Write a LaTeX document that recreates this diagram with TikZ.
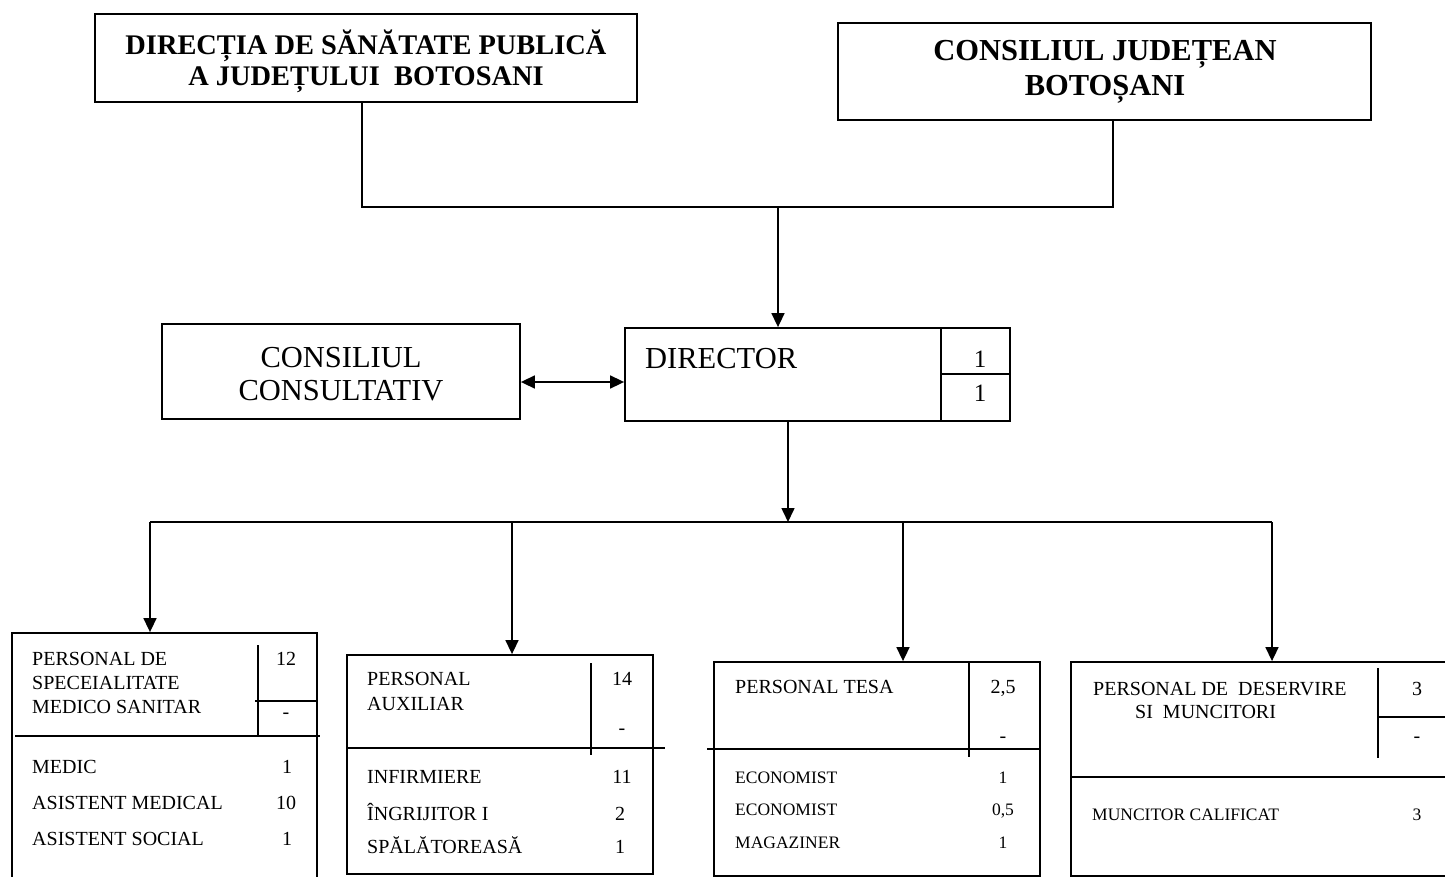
\documentclass[tikz,border=0pt]{standalone}
\usepackage{fontspec}
\setmainfont{Liberation Serif}
\usetikzlibrary{arrows.meta}
\newcommand\myfs[1]{\fontsize{#1}{#1}\selectfont}
\begin{document}
\begin{tikzpicture}[x=1pt,y=-1pt,
  box/.style={draw, line width=1.8pt, rectangle, inner sep=0pt},
  conn/.style={line width=1.6pt},
  tip/.tip={Triangle[length=14pt,width=13pt]},
  arr/.style={conn, -tip},
  lt/.style={inner sep=0pt, anchor=base west},
  ct/.style={inner sep=0pt, anchor=base},
  big/.style={font=\bfseries\myfs{28.4}},
  bigr/.style={font=\bfseries\myfs{30.5}},
  mid/.style={font=\myfs{30.5}},
  num/.style={font=\myfs{25}},
  hd/.style={font=\myfs{20}},
  sm/.style={font=\myfs{17.5}}]
\useasboundingbox (0,0) rectangle (1445,877);
\clip (0,0) rectangle (1445,877);
\fill[white] (0,0) rectangle (1445,877);

% top boxes
\node[box, minimum width=542pt, minimum height=88pt] (dsp) at (366,58) {};
\node[ct, big] (dsp1) at (366,55) {DIRECȚIA DE SĂNĂTATE PUBLICĂ};
\node[ct, big] (dsp2) at (366,86) {A JUDEȚULUI\ \ BOTOSANI};

\node[box, minimum width=533pt, minimum height=97pt] (cj) at (1104.5,71.5) {};
\node[ct, bigr] (cj1) at (1105,61) {CONSILIUL JUDEȚEAN};
\node[ct, bigr] (cj2) at (1105,96) {BOTOȘANI};

% director and council
\node[box, minimum width=385pt, minimum height=93pt] (dir) at (817.5,374.5) {};
\node[lt, mid] (dirt) at (645,368) {DIRECTOR};
\draw[line width=1.8pt] (941,328) -- (941,421);
\draw[line width=1.8pt] (941,374) -- (1010,374);
\node[ct, num] (d1) at (980,367) {1};
\node[ct, num] (d2) at (980,401) {1};

\node[box, minimum width=358pt, minimum height=95pt] (cc) at (341,371.5) {};
\node[ct, mid] (cc1) at (341,367) {CONSILIUL};
\node[ct, mid] (cc2) at (341,400) {CONSULTATIV};

% top connectors
\coordinate (j1) at (362,207);
\coordinate (j2) at (1113,207);
\coordinate (jm) at (778,207);
\draw[conn] (dsp.south -| j1) -- (j1) -- (j2) -- (cj.south -| j2);
\draw[arr] (jm) -- (dir.north -| jm);
\draw[conn, tip-tip] (cc.east |- 0,382) -- (dir.west |- 0,382);

% bottom boxes
\node[box, minimum width=305pt, minimum height=252pt] (b1) at (164.5,759) {};
\node[box, minimum width=306pt, minimum height=219pt] (b2) at (500,764.5) {};
\node[box, minimum width=326pt, minimum height=214pt] (b3) at (877,769) {};
\node[box, minimum width=389pt, minimum height=214pt] (b4) at (1265.5,769) {};

% hub connectors
\coordinate (hc) at (788,522);
\coordinate (h1) at (150,522);
\coordinate (h2) at (512,522);
\coordinate (h3) at (903,522);
\coordinate (h4) at (1272,522);
\draw[arr] (dir.south -| hc) -- (hc);
\draw[conn] (h1) -- (h4);
\draw[arr] (h1) -- (b1.north -| h1);
\draw[arr] (h2) -- (b2.north -| h2);
\draw[arr] (h3) -- (b3.north -| h3);
\draw[arr] (h4) -- (b4.north -| h4);

% box 1 internals
\draw[line width=1.8pt] (258,645) -- (258,736);
\draw[line width=1.8pt] (255,701) -- (317,701);
\draw[line width=1.8pt] (15,736) -- (320,736);
\node[lt, hd] (b1a) at (32,665) {PERSONAL DE};
\node[lt, hd] (b1b) at (32,689) {SPECEIALITATE};
\node[lt, hd] (b1c) at (32,713) {MEDICO SANITAR};
\node[ct, hd] (b1n) at (286,665) {12};
\node[ct, hd] (b1d) at (286,718) {-};
\node[lt, hd] (b1i1) at (32,773) {MEDIC};
\node[lt, hd] (b1i2) at (32,809) {ASISTENT MEDICAL};
\node[lt, hd] (b1i3) at (32,845) {ASISTENT SOCIAL};
\node[ct, hd] (b1v1) at (287,773) {1};
\node[ct, hd] (b1v2) at (286,809) {10};
\node[ct, hd] (b1v3) at (287,845) {1};

% box 2 internals
\draw[line width=1.8pt] (591,663) -- (591,755);
\draw[line width=1.8pt] (347,748) -- (665,748);
\node[lt, hd] (b2a) at (367,685) {PERSONAL};
\node[lt, hd] (b2b) at (367,710) {AUXILIAR};
\node[ct, hd] (b2n) at (622,685) {14};
\node[ct, hd] (b2d) at (622,734) {-};
\node[lt, hd] (b2i1) at (367,783) {INFIRMIERE};
\node[lt, hd] (b2i2) at (367,820) {ÎNGRIJITOR I};
\node[lt, hd] (b2i3) at (367,853) {SPĂLĂTOREASĂ};
\node[ct, hd] (b2v1) at (622,783) {11};
\node[ct, hd] (b2v2) at (620,820) {2};
\node[ct, hd] (b2v3) at (620,853) {1};

% box 3 internals
\draw[line width=1.8pt] (969,662) -- (969,757);
\draw[line width=1.8pt] (707,749) -- (1040,749);
\node[lt, hd] (b3a) at (735,693) {PERSONAL TESA};
\node[ct, hd] (b3n) at (1003,693) {2,5};
\node[ct, hd] (b3d) at (1003,742) {-};
\node[lt, sm] (b3i1) at (735,783) {ECONOMIST};
\node[lt, sm] (b3i2) at (735,815) {ECONOMIST};
\node[lt, sm] (b3i3) at (735,848) {MAGAZINER};
\node[ct, sm] (b3v1) at (1003,783) {1};
\node[ct, sm] (b3v2) at (1003,815) {0,5};
\node[ct, sm] (b3v3) at (1003,848) {1};

% box 4 internals
\draw[line width=1.8pt] (1378,668) -- (1378,758);
\draw[line width=1.8pt] (1378,717) -- (1445,717);
\draw[line width=1.8pt] (1071,777) -- (1445,777);
\node[lt, hd] (b4a) at (1093,695) {PERSONAL DE\ \ DESERVIRE};
\node[lt, hd] (b4b) at (1135,718) {SI\ \ MUNCITORI};
\node[ct, hd] (b4n) at (1417,695) {3};
\node[ct, hd] (b4d) at (1417,742) {-};
\node[lt, sm] (b4i1) at (1092,820) {MUNCITOR CALIFICAT};
\node[ct, sm] (b4v1) at (1417,820) {3};
\end{tikzpicture}
\end{document}
